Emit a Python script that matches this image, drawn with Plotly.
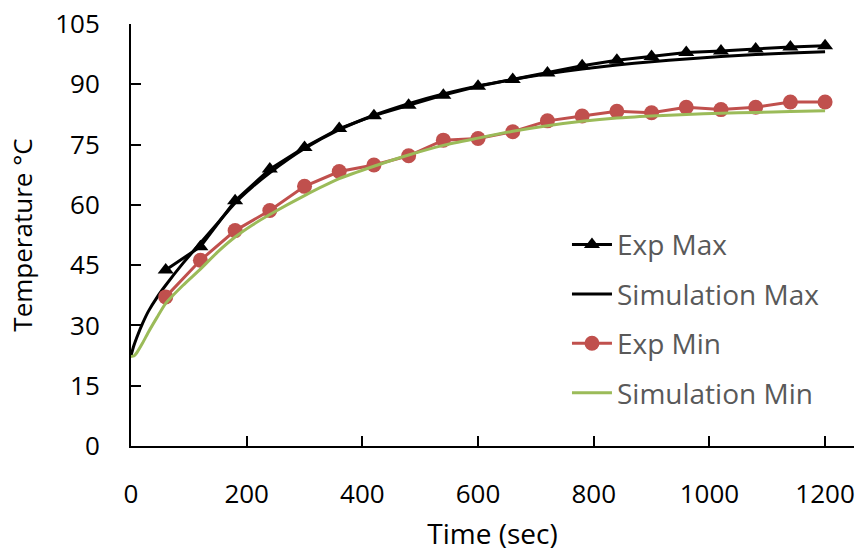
import plotly.graph_objects as go

# Experimental readings (every 60 s)
exp_time = [60, 120, 180, 240, 300, 360, 420, 480, 540, 600, 660, 720, 780, 840,
            900, 960, 1020, 1080, 1140, 1200]
exp_max = [43.8, 49.6, 61.0, 68.9, 74.3, 79.0, 82.2, 84.8, 87.3, 89.5, 91.2, 92.8,
           94.6, 96.0, 96.9, 97.9, 98.3, 98.8, 99.3, 99.6]
exp_min = [37.1, 46.2, 53.6, 58.6, 64.6, 68.3, 69.9, 72.2, 76.1, 76.5, 78.2, 80.9,
           82.1, 83.3, 82.9, 84.3, 83.7, 84.3, 85.6, 85.6]

# Simulation output
sim_time = [0, 5, 10, 20, 30, 45, 60, 90, 120, 150, 180, 210, 240, 300, 360, 420, 480,
            540, 600, 660, 720, 780, 840, 900, 960, 1020, 1080, 1140, 1200]
sim_max = [22.5, 25.0, 27.0, 30.5, 33.5, 37.0, 40.0, 45.5, 50.5, 55.5, 60.5, 64.5, 68.0,
           74.0, 78.7, 82.3, 85.2, 87.6, 89.6, 91.2, 92.6, 93.8, 94.8, 95.6, 96.3,
           96.9, 97.4, 97.8, 98.1]
sim_min = [22.3, 22.4, 23.2, 25.6, 28.3, 32.0, 35.5, 40.0, 44.0, 48.3, 52.0, 55.0, 57.6,
           62.3, 66.5, 69.6, 72.4, 74.8, 76.6, 78.3, 79.7, 80.8, 81.6, 82.1, 82.5,
           82.8, 83.0, 83.2, 83.4]

x_ticks = [0, 200, 400, 600, 800, 1000, 1200]
y_ticks = [0, 15, 30, 45, 60, 75, 90, 105]

BLACK = "#000000"
RED = "#C0504D"
GREEN = "#9BBB59"
FONT = "Open Sans"

fig = go.Figure()
fig.add_trace(go.Scatter(
    x=exp_time, y=exp_max, name="Exp Max", mode="lines+markers",
    line=dict(color=BLACK, width=3),
    marker=dict(symbol="triangle-up", size=14, color=BLACK),
    legendgroup="a"))
fig.add_trace(go.Scatter(
    x=sim_time, y=sim_max, name="Simulation Max", mode="lines",
    line=dict(color=BLACK, width=3, shape="spline", smoothing=0.6), legendgroup="b"))
fig.add_trace(go.Scatter(
    x=exp_time, y=exp_min, name="Exp Min", mode="lines+markers",
    line=dict(color=RED, width=3),
    marker=dict(symbol="circle", size=15, color=RED),
    legendgroup="c"))
fig.add_trace(go.Scatter(
    x=sim_time, y=sim_min, name="Simulation Min", mode="lines",
    line=dict(color=GREEN, width=3, shape="spline", smoothing=0.6), legendgroup="d"))

fig.update_layout(
    width=860, height=556,
    margin=dict(l=131, r=5, t=21, b=110),
    paper_bgcolor="white", plot_bgcolor="white",
    font=dict(family=FONT, size=26, color="#000000"),
    showlegend=True,
    legend=dict(
        x=0.603, y=0.536, xanchor="left", yanchor="top",
        traceorder="grouped", tracegroupgap=10,
        font=dict(family=FONT, size=28, color="#595959"),
        bgcolor="rgba(0,0,0,0)", itemwidth=40,
    ),
)

fig.update_xaxes(
    range=[0, 1250], tickvals=x_ticks, ticktext=[str(v) for v in x_ticks],
    showgrid=False, zeroline=False,
    showline=True, linecolor=BLACK, linewidth=2,
    ticks="inside", ticklen=10, tickwidth=2, tickcolor=BLACK,
    ticklabelstandoff=24,
    tickfont=dict(family=FONT, size=26, color="#000000"),
    title=dict(text="Time (sec)", font=dict(family=FONT, size=28, color="#000000"),
               standoff=14),
)
fig.update_yaxes(
    range=[0, 105], tickvals=y_ticks, ticktext=[str(v) for v in y_ticks],
    showgrid=False, zeroline=False,
    showline=True, linecolor=BLACK, linewidth=2,
    ticks="inside", ticklen=10, tickwidth=2, tickcolor=BLACK,
    ticklabelstandoff=24,
    tickfont=dict(family=FONT, size=26, color="#000000"),
    title=dict(text="Temperature °C", font=dict(family=FONT, size=26, color="#000000"),
               standoff=15),
)

fig.write_html("out.html")
